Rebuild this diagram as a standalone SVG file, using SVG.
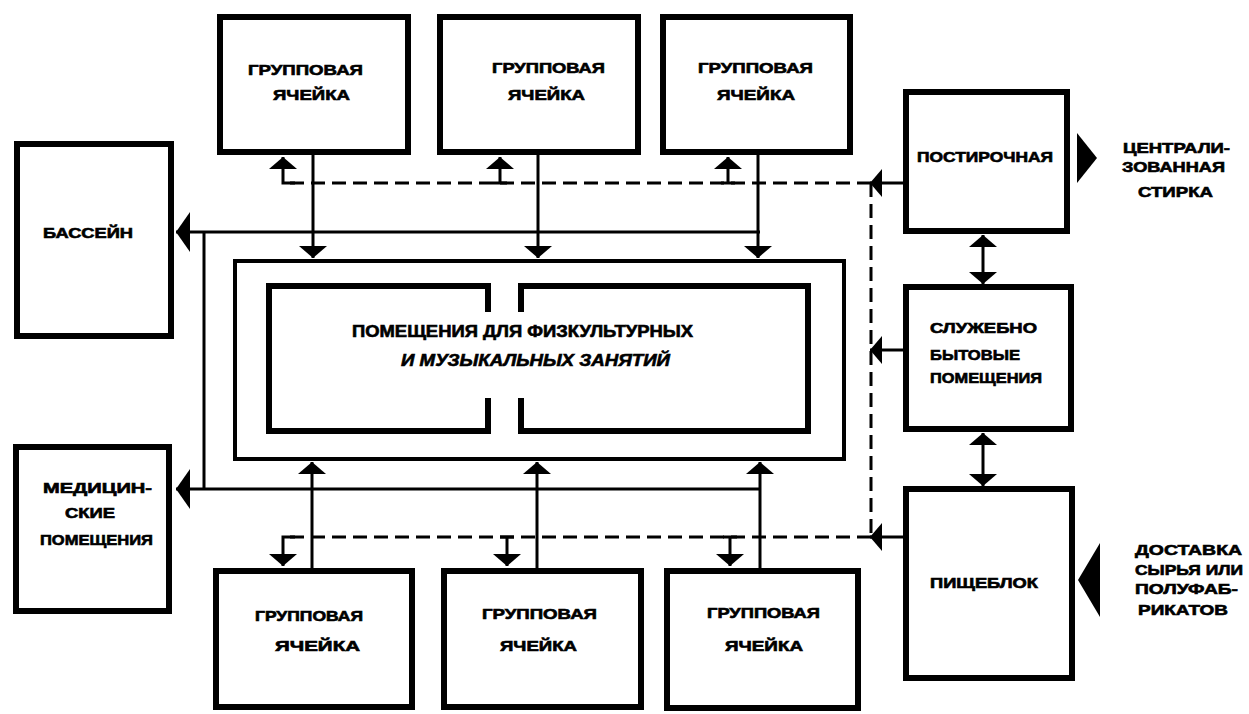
<svg xmlns="http://www.w3.org/2000/svg" width="1249" height="714" viewBox="0 0 1249 714">
<style>
.box{fill:#fff;stroke:#000;stroke-width:6}
.outer{fill:none;stroke:#000;stroke-width:4}
.inner{fill:none;stroke:#000;stroke-width:6}
.ln{fill:none;stroke:#000;stroke-width:3}
.dash{fill:none;stroke:#000;stroke-width:3;stroke-dasharray:14 7}
.t{font-family:"Liberation Sans",Arial,sans-serif;font-weight:bold;font-size:14px;fill:#000;stroke:#000;stroke-width:0.6}
.tb{font-family:"Liberation Sans",Arial,sans-serif;font-weight:bold;font-size:16px;fill:#000;stroke:#000;stroke-width:0.6}
</style>
<defs>
<marker id="ah" markerUnits="userSpaceOnUse" markerWidth="13" markerHeight="28" refX="12" refY="14" orient="auto-start-reverse" viewBox="0 0 13 28">
<path d="M0,0 L12,14 L0,28 Z" fill="#000"/>
</marker>
<marker id="big" markerUnits="userSpaceOnUse" markerWidth="15" markerHeight="40" refX="14" refY="20" orient="auto" viewBox="0 0 15 40">
<path d="M0,0 L14,20 L0,40 Z" fill="#000"/>
</marker>
</defs>

<g id="connectors">
<path class="ln" d="M760,232 H176" marker-end="url(#big)"/>
<path class="ln" d="M760,489 H176" marker-end="url(#big)"/>
<path class="ln" d="M204,232 V489"/>
<path class="ln" d="M313,155 V258" marker-end="url(#ah)"/>
<path class="ln" d="M538,155 V258" marker-end="url(#ah)"/>
<path class="ln" d="M758,155 V258" marker-end="url(#ah)"/>
<path class="ln" d="M312,568 V462" marker-end="url(#ah)"/>
<path class="ln" d="M537,568 V462" marker-end="url(#ah)"/>
<path class="ln" d="M760,568 V462" marker-end="url(#ah)"/>
<path class="dash" d="M871,183 H290"/>
<path class="ln" d="M295,183 H283 V157" marker-end="url(#ah)"/>
<path class="ln" d="M500,183 V157" marker-end="url(#ah)"/>
<path class="ln" d="M493,183 H507"/>
<path class="ln" d="M728,183 V157" marker-end="url(#ah)"/>
<path class="ln" d="M721,183 H735"/>
<path class="dash" d="M871,183 V537"/>
<path class="dash" d="M871,537 H290"/>
<path class="ln" d="M295,537 H283 V566" marker-end="url(#ah)"/>
<path class="ln" d="M507,537 V566" marker-end="url(#ah)"/>
<path class="ln" d="M500,537 H514"/>
<path class="ln" d="M730,537 V566" marker-end="url(#ah)"/>
<path class="ln" d="M723,537 H737"/>
<path class="ln" d="M904,183 H870" marker-end="url(#ah)"/>
<path class="ln" d="M904,350 H870" marker-end="url(#ah)"/>
<path class="ln" d="M904,537 H870" marker-end="url(#ah)"/>
<path class="ln" d="M983,235 V284" marker-start="url(#ah)" marker-end="url(#ah)"/>
<path class="ln" d="M983,433 V486" marker-start="url(#ah)" marker-end="url(#ah)"/>
<polygon points="1077,133 1097,158 1077,183" fill="#000"/>
<polygon points="1100,543 1078,580 1100,617" fill="#000"/>
</g>

<g id="group-top-1">
<rect class="box" x="220" y="17" width="188" height="135"/>
<text class="t" x="248" y="75" textLength="115" lengthAdjust="spacingAndGlyphs">ГРУППОВАЯ</text>
<text class="t" x="273" y="100" textLength="77" lengthAdjust="spacingAndGlyphs">ЯЧЕЙКА</text>
</g>
<g id="group-top-2">
<rect class="box" x="440" y="17" width="198" height="135"/>
<text class="t" x="492" y="73" textLength="113" lengthAdjust="spacingAndGlyphs">ГРУППОВАЯ</text>
<text class="t" x="508" y="100" textLength="77" lengthAdjust="spacingAndGlyphs">ЯЧЕЙКА</text>
</g>
<g id="group-top-3">
<rect class="box" x="663" y="17" width="187" height="135"/>
<text class="t" x="698" y="73" textLength="115" lengthAdjust="spacingAndGlyphs">ГРУППОВАЯ</text>
<text class="t" x="717" y="100" textLength="78" lengthAdjust="spacingAndGlyphs">ЯЧЕЙКА</text>
</g>

<g id="pool">
<rect class="box" x="17" y="144" width="154" height="192"/>
<text class="t" x="43" y="238" textLength="90" lengthAdjust="spacingAndGlyphs">БАССЕЙН</text>
</g>

<g id="medical">
<rect class="box" x="16" y="447" width="153" height="164"/>
<text class="t" x="43" y="493" textLength="109" lengthAdjust="spacingAndGlyphs">МЕДИЦИН-</text>
<text class="t" x="65" y="518" textLength="50" lengthAdjust="spacingAndGlyphs">СКИЕ</text>
<text class="t" x="40" y="545" textLength="113" lengthAdjust="spacingAndGlyphs">ПОМЕЩЕНИЯ</text>
</g>

<g id="gym">
<rect class="outer" x="235" y="261" width="609" height="198"/>
<path class="inner" d="M488,312 V286 H269 V431 H488 V398"/>
<path class="inner" d="M521,312 V286 H808 V431 H521 V398"/>
<text class="tb" x="352" y="337" textLength="341" lengthAdjust="spacingAndGlyphs">ПОМЕЩЕНИЯ ДЛЯ ФИЗКУЛЬТУРНЫХ</text>
<text class="tb" x="401" y="366" textLength="269" lengthAdjust="spacingAndGlyphs" font-style="italic">И МУЗЫКАЛЬНЫХ ЗАНЯТИЙ</text>
</g>

<g id="group-bottom-1">
<rect class="box" x="216" y="571" width="196" height="136"/>
<text class="t" x="255" y="621" textLength="108" lengthAdjust="spacingAndGlyphs">ГРУППОВАЯ</text>
<text class="t" x="275" y="651" textLength="85" lengthAdjust="spacingAndGlyphs">ЯЧЕЙКА</text>
</g>
<g id="group-bottom-2">
<rect class="box" x="444" y="571" width="197" height="136"/>
<text class="t" x="482" y="619" textLength="115" lengthAdjust="spacingAndGlyphs">ГРУППОВАЯ</text>
<text class="t" x="500" y="651" textLength="77" lengthAdjust="spacingAndGlyphs">ЯЧЕЙКА</text>
</g>
<g id="group-bottom-3">
<rect class="box" x="667" y="571" width="191" height="137"/>
<text class="t" x="707" y="618" textLength="113" lengthAdjust="spacingAndGlyphs">ГРУППОВАЯ</text>
<text class="t" x="725" y="651" textLength="78" lengthAdjust="spacingAndGlyphs">ЯЧЕЙКА</text>
</g>

<g id="laundry">
<rect class="box" x="906" y="92" width="161" height="139"/>
<text class="t" x="917" y="162" textLength="136" lengthAdjust="spacingAndGlyphs">ПОСТИРОЧНАЯ</text>
</g>
<g id="laundry-label">
<text class="t" x="1123" y="153" textLength="107" lengthAdjust="spacingAndGlyphs">ЦЕНТРАЛИ-</text>
<text class="t" x="1122" y="172" textLength="103" lengthAdjust="spacingAndGlyphs">ЗОВАННАЯ</text>
<text class="t" x="1138" y="197" textLength="75" lengthAdjust="spacingAndGlyphs">СТИРКА</text>
</g>

<g id="service">
<rect class="box" x="906" y="287" width="165" height="142"/>
<text class="t" x="930" y="333" textLength="107" lengthAdjust="spacingAndGlyphs">СЛУЖЕБНО</text>
<text class="t" x="930" y="360" textLength="90" lengthAdjust="spacingAndGlyphs">БЫТОВЫЕ</text>
<text class="t" x="930" y="383" textLength="112" lengthAdjust="spacingAndGlyphs">ПОМЕЩЕНИЯ</text>
</g>

<g id="kitchen">
<rect class="box" x="906" y="489" width="166" height="189"/>
<text class="t" x="930" y="588" textLength="108" lengthAdjust="spacingAndGlyphs">ПИЩЕБЛОК</text>
</g>
<g id="delivery-label">
<text class="t" x="1135" y="555" textLength="107" lengthAdjust="spacingAndGlyphs">ДОСТАВКА</text>
<text class="t" x="1135" y="575" textLength="108" lengthAdjust="spacingAndGlyphs">СЫРЬЯ ИЛИ</text>
<text class="t" x="1135" y="594" textLength="103" lengthAdjust="spacingAndGlyphs">ПОЛУФАБ-</text>
<text class="t" x="1138" y="615" textLength="90" lengthAdjust="spacingAndGlyphs">РИКАТОВ</text>
</g>
</svg>
